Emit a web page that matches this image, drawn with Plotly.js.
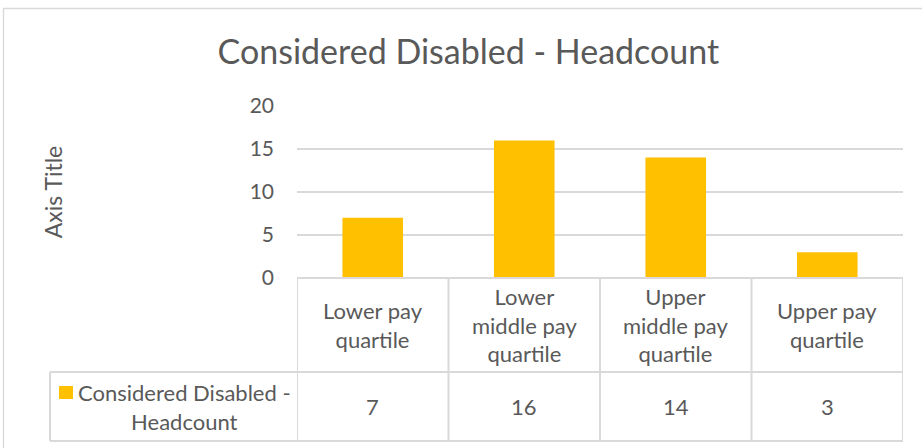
<!DOCTYPE html>
<html>
<head>
<meta charset="utf-8">
<script src="https://cdn.plot.ly/plotly-3.0.1.min.js"></script>
<style>
  html, body { margin: 0; padding: 0; background: #fff; }
  #chart { width: 922px; height: 448px; }
</style>
</head>
<body>
<div id="chart"></div>
<script>
const chartTitle = "Considered Disabled - Headcount";
const seriesName = "Considered Disabled - Headcount";
const categories = ["Lower pay quartile", "Lower middle pay quartile", "Upper middle pay quartile", "Upper pay quartile"];
const categoryLabels = ["Lower pay<br>quartile", "Lower<br>middle pay<br>quartile", "Upper<br>middle pay<br>quartile", "Upper pay<br>quartile"];
const values = [7, 16, 14, 3];
const yTicks = [0, 5, 10, 15, 20];

const FONT = "Lato, 'Open Sans', sans-serif";
const TXT = "#595959";
const GRID = "#D9D9D9";
const BAR = "#FFC000";

// Pixel geometry helpers (plot area: x 297..903, y 106..278)
const L = 297, R = 903, T = 106, B = 278;
const px = v => (v - L) / (R - L);
const py = v => (B - v) / (B - T);

const shapes = [];
// outer chart border
shapes.push({type: "rect", xref: "paper", yref: "paper", x0: px(3.5), x1: px(930), y0: py(455), y1: py(8.5),
  line: {color: GRID, width: 1.3}, layer: "below"});
// horizontal table lines
shapes.push({type: "line", xref: "paper", yref: "paper", x0: px(L), x1: px(R), y0: 0, y1: 0, line: {color: GRID, width: 2}});
shapes.push({type: "line", xref: "paper", yref: "paper", x0: px(50), x1: px(R), y0: py(372), y1: py(372), line: {color: GRID, width: 2}});
shapes.push({type: "line", xref: "paper", yref: "paper", x0: px(50), x1: px(R), y0: py(441), y1: py(441), line: {color: GRID, width: 2}});
// vertical lines at category boundaries
for (let i = 0; i <= categories.length; i++) {
  const xb = i - 0.5;
  shapes.push({type: "line", xref: "x", yref: "paper", x0: xb, x1: xb, y0: py(441), y1: 0, line: {color: GRID, width: 2}});
}
shapes.push({type: "line", xref: "paper", yref: "paper", x0: px(50), x1: px(50), y0: py(441), y1: py(372), line: {color: GRID, width: 2}});
// legend key
shapes.push({type: "rect", xref: "paper", yref: "paper", x0: px(59), x1: px(73), y0: py(399), y1: py(386),
  fillcolor: BAR, line: {width: 0}});

const annotations = [];
categories.forEach((c, i) => {
  annotations.push({xref: "x", yref: "paper", x: i, y: py(325), text: categoryLabels[i], showarrow: false,
    xanchor: "center", yanchor: "middle", align: "center", font: {family: FONT, size: 22, color: TXT}});
  annotations.push({xref: "x", yref: "paper", x: i, y: py(406.5), text: String(values[i]), showarrow: false,
    xanchor: "center", yanchor: "middle", align: "center", font: {family: FONT, size: 22, color: TXT}});
});
annotations.push({xref: "paper", yref: "paper", x: px(184), y: py(406.5), text: "Considered Disabled -<br>Headcount",
  showarrow: false, xanchor: "center", yanchor: "middle", align: "center", font: {family: FONT, size: 22, color: TXT}});

const data = [{
  type: "bar",
  x: categories,
  y: values,
  name: seriesName,
  marker: {color: BAR},
  width: 0.4,
  hoverinfo: "x+y"
}];

const layout = {
  width: 922, height: 448,
  margin: {l: L, r: 922 - R, t: T, b: 448 - B, pad: 0},
  paper_bgcolor: "#fff", plot_bgcolor: "#fff",
  showlegend: false,
  title: {text: chartTitle, x: 0.508, xref: "container", xanchor: "center", y: 1 - 52 / 448, yref: "container", yanchor: "middle",
    font: {family: FONT, size: 34, color: TXT}},
  xaxis: {type: "category", range: [-0.5, 3.5], showticklabels: false, showgrid: false, zeroline: false, showline: false, fixedrange: true},
  yaxis: {range: [0, 20], tickvals: yTicks, ticktext: yTicks.map(String), showgrid: true, gridcolor: GRID, gridwidth: 2,
    zeroline: false, showline: false, ticks: "", ticklabelstandoff: 22,
    tickfont: {family: FONT, size: 21, color: TXT},
    title: {text: "Axis Title", font: {family: FONT, size: 23, color: TXT}, standoff: 180},
    automargin: false, fixedrange: true},
  shapes: shapes,
  annotations: annotations
};

Plotly.newPlot("chart", data, layout, {displayModeBar: false, staticPlot: true});
</script>
</body>
</html>
